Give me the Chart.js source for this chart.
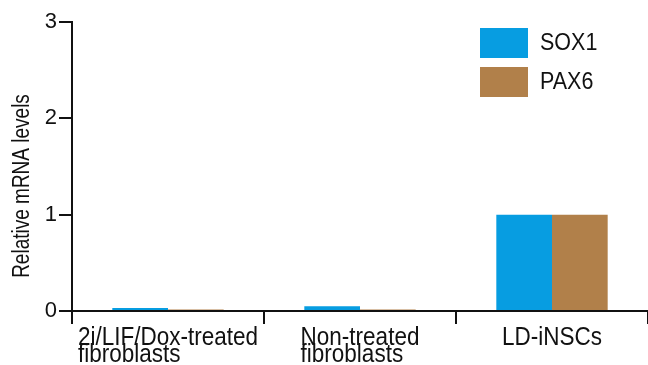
<!DOCTYPE html>
<html>
<head>
<meta charset="utf-8">
<script src="https://cdn.jsdelivr.net/npm/chart.js@4.4.1/dist/chart.umd.min.js"></script>
<style>
  html, body { margin: 0; padding: 0; background: #fff; }
  #wrap { width: 648px; height: 365px; }
</style>
</head>
<body>
<div id="wrap"><canvas id="c" width="648" height="365"></canvas></div>
<script>
// Sample groups and expression values
const categories = [
  ['2i/LIF/Dox-treated', 'fibroblasts'],
  ['Non-treated', 'fibroblasts'],
  ['LD-iNSCs']
];
const sox1 = [0.03, 0.05, 1.0];
const pax6 = [0.015, 0.015, 1.0];
const yTicks = [0, 1, 2, 3];
const seriesNames = ['SOX1', 'PAX6'];
const seriesColors = ['#079DE1', '#B1804A'];

const FONT = 'Arial, "Liberation Sans", sans-serif';
const INK = '#111';
const STRETCH = 1.13; // glyphs are set slightly taller than wide

// Draw text at (x, baseline y) with vertical stretch
function tallText(ctx, text, x, y) {
  ctx.save();
  ctx.translate(x, y);
  ctx.scale(1, STRETCH);
  ctx.fillText(text, 0, 0);
  ctx.restore();
}

// Category labels: block centred on the category, lines left-aligned; axis title
const labelPlugin = {
  id: 'catLabels',
  afterDraw(chart) {
    const ctx = chart.ctx;
    const x = chart.scales.x;
    ctx.save();
    ctx.font = '22.5px ' + FONT;
    ctx.fillStyle = INK;
    ctx.textBaseline = 'alphabetic';
    ctx.textAlign = 'left';
    categories.forEach((lines, i) => {
      const cx = x.getPixelForValue(i);
      const w = Math.max(...lines.map(l => ctx.measureText(l).width));
      const left = cx - w / 2;
      lines.forEach((l, j) => tallText(ctx, l, left, 345 + j * 17));
    });
    ctx.translate(23, 186);
    ctx.rotate(-Math.PI / 2);
    ctx.scale(1, 1.22);
    ctx.textAlign = 'center';
    ctx.textBaseline = 'middle';
    ctx.font = '19px ' + FONT;
    ctx.fillText('Relative mRNA levels', 0, 0);
    ctx.restore();
  }
};

// Legend inside the plot, top right
const legendPlugin = {
  id: 'boxLegend',
  afterDraw(chart) {
    const ctx = chart.ctx;
    ctx.save();
    ctx.font = '21.5px ' + FONT;
    ctx.textBaseline = 'alphabetic';
    ctx.textAlign = 'left';
    seriesNames.forEach((name, i) => {
      const y = 28 + i * 39;
      ctx.fillStyle = seriesColors[i];
      ctx.fillRect(480, y, 48, 30);
      ctx.fillStyle = INK;
      tallText(ctx, name, 540, y + 22);
    });
    ctx.restore();
  }
};

new Chart(document.getElementById('c'), {
  type: 'bar',
  data: {
    labels: categories.map(c => c.join(' ')),
    datasets: [
      { label: seriesNames[0], data: sox1, backgroundColor: seriesColors[0] },
      { label: seriesNames[1], data: pax6, backgroundColor: seriesColors[1] }
    ]
  },
  options: {
    responsive: false,
    animation: false,
    devicePixelRatio: 1,
    layout: { padding: { top: 22, left: 0, right: 0, bottom: 0 } },
    datasets: { bar: { categoryPercentage: 0.58, barPercentage: 1.0, borderWidth: 0 } },
    plugins: { legend: { display: false }, tooltip: { enabled: false } },
    scales: {
      x: {
        afterFit: s => { s.height = 54; },
        grid: { offset: true, drawOnChartArea: false, drawTicks: true, tickLength: 13, color: INK, lineWidth: 2 },
        border: { display: true, color: INK, width: 2 },
        ticks: { callback: () => '', padding: 0 }
      },
      y: {
        min: 0, max: 3,
        afterFit: s => { s.width = 72; },
        afterBuildTicks: s => { s.ticks = yTicks.map(v => ({ value: v })); },
        grid: { drawOnChartArea: false, drawTicks: true, tickLength: 13, color: INK, lineWidth: 2 },
        border: { display: true, color: INK, width: 2 },
        ticks: { color: INK, font: { family: FONT, size: 22 }, padding: 2 }
      }
    }
  },
  plugins: [labelPlugin, legendPlugin]
});
</script>
</body>
</html>
